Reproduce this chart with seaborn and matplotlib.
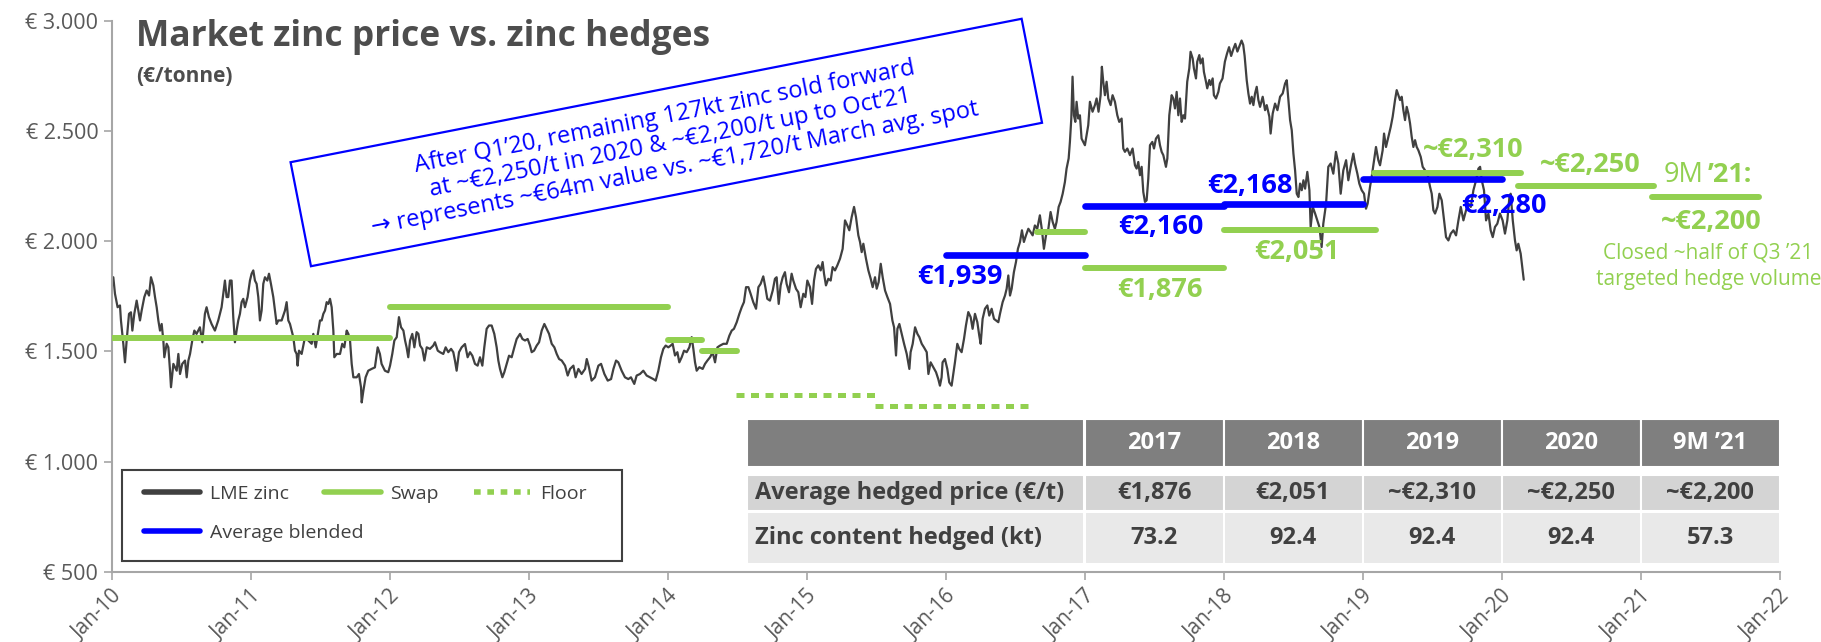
import numpy as np
import seaborn as sns
import matplotlib.pyplot as plt
from matplotlib.lines import Line2D
from matplotlib.patches import Rectangle
from matplotlib.transforms import Affine2D

# LME zinc price: years since Jan-2010 / EUR per tonne
lme_t = [
    0.001, 0.013, 0.025, 0.044, 0.061, 0.068, 0.085, 0.097, 0.109, 0.126, 0.140, 0.150, 0.164, 0.181, 0.193,
    0.205, 0.217, 0.236, 0.253, 0.270, 0.284, 0.301, 0.313, 0.325, 0.337, 0.349, 0.361, 0.373, 0.380, 0.397,
    0.409, 0.421, 0.428, 0.445, 0.457, 0.469, 0.481, 0.493, 0.509, 0.529, 0.541, 0.553, 0.565, 0.581, 0.596,
    0.612, 0.636, 0.653, 0.672, 0.684, 0.701, 0.720, 0.744, 0.768, 0.792, 0.804, 0.816, 0.828, 0.840, 0.852,
    0.864, 0.876, 0.888, 0.900, 0.912, 0.924, 0.936, 0.948, 0.960, 0.979, 0.996, 1.008, 1.020, 1.032, 1.044,
    1.056, 1.068, 1.080, 1.092, 1.104, 1.121, 1.133, 1.147, 1.164, 1.176, 1.188, 1.200, 1.224, 1.248, 1.260,
    1.272, 1.284, 1.296, 1.308, 1.320, 1.332, 1.339, 1.349, 1.368, 1.392, 1.416, 1.440, 1.452, 1.469, 1.488,
    1.500, 1.512, 1.524, 1.536, 1.548, 1.560, 1.572, 1.584, 1.596, 1.603, 1.620, 1.644, 1.660, 1.675, 1.692,
    1.704, 1.716, 1.728, 1.740, 1.764, 1.780, 1.795, 1.800, 1.812, 1.828, 1.847, 1.871, 1.895, 1.915, 1.931,
    1.943, 1.967, 1.991,
    2.004, 2.020, 2.035, 2.052, 2.068, 2.083, 2.100, 2.112, 2.123, 2.135, 2.148, 2.164, 2.179, 2.195, 2.208,
    2.220, 2.236, 2.251, 2.268, 2.291, 2.315, 2.327, 2.347, 2.363, 2.387, 2.404, 2.423, 2.443, 2.459, 2.471,
    2.483, 2.500, 2.519, 2.543, 2.562, 2.579, 2.596, 2.615, 2.634, 2.651, 2.668, 2.682, 2.699, 2.716, 2.735,
    2.754, 2.771, 2.783, 2.795, 2.812, 2.826, 2.843, 2.860, 2.879, 2.898, 2.915, 2.939, 2.956, 2.975, 2.994,
    3.011, 3.023, 3.040, 3.059, 3.076, 3.095, 3.114, 3.131, 3.148, 3.167, 3.186, 3.203, 3.220, 3.239, 3.263,
    3.282, 3.299, 3.323, 3.339, 3.359, 3.382, 3.407, 3.419, 3.435, 3.454, 3.478, 3.503, 3.522, 3.546, 3.570,
    3.594, 3.611, 3.630, 3.646, 3.670, 3.694, 3.718, 3.737, 3.761, 3.778, 3.802, 3.826, 3.850, 3.874, 3.898,
    3.915, 3.934, 3.953, 3.970, 3.987, 4.006,
    4.023, 4.037, 4.054, 4.071, 4.085, 4.102, 4.119, 4.138, 4.157, 4.174, 4.186, 4.198, 4.210, 4.229, 4.253,
    4.270, 4.287, 4.306, 4.325, 4.342, 4.359, 4.378, 4.402, 4.426, 4.445, 4.462, 4.478, 4.498, 4.517, 4.534,
    4.550, 4.565, 4.582, 4.598, 4.617, 4.637, 4.654, 4.670, 4.689, 4.704, 4.718, 4.737, 4.757, 4.773, 4.785,
    4.800, 4.814, 4.829, 4.845, 4.857, 4.874, 4.893, 4.905, 4.925, 4.941, 4.958, 4.977, 4.992, 5.006, 5.025,
    5.040, 5.054, 5.068, 5.085, 5.102, 5.116, 5.126, 5.140, 5.157, 5.174, 5.188, 5.205, 5.222, 5.241, 5.260,
    5.277, 5.294, 5.308, 5.325, 5.342, 5.356, 5.373, 5.385, 5.397, 5.409, 5.428, 5.445, 5.462, 5.476, 5.493,
    5.505, 5.519, 5.534, 5.548, 5.565, 5.582, 5.601, 5.618, 5.630, 5.644, 5.654, 5.668, 5.685, 5.702, 5.721,
    5.740, 5.749, 5.764, 5.781, 5.798, 5.812, 5.829, 5.845, 5.865, 5.877, 5.893, 5.912, 5.932, 5.948, 5.960,
    5.972,
    5.979, 5.996, 6.013, 6.027, 6.044, 6.056, 6.068, 6.085, 6.099, 6.116, 6.133, 6.147, 6.164, 6.181, 6.195,
    6.212, 6.229, 6.243, 6.253, 6.267, 6.284, 6.301, 6.315, 6.332, 6.349, 6.363, 6.380, 6.392, 6.411, 6.428,
    6.440, 6.452, 6.464, 6.476, 6.492, 6.507, 6.521, 6.536, 6.550, 6.564, 6.579, 6.596, 6.612, 6.627, 6.643,
    6.660, 6.679, 6.694, 6.708, 6.723, 6.740, 6.756, 6.771, 6.787, 6.799, 6.814, 6.828, 6.843, 6.859, 6.871,
    6.886, 6.895, 6.905, 6.914, 6.924, 6.934, 6.943, 6.955, 6.967, 6.979, 6.991, 7.003, 7.015, 7.027, 7.039,
    7.058, 7.075, 7.087, 7.101, 7.116, 7.125, 7.135, 7.147, 7.159, 7.171, 7.188, 7.202, 7.219, 7.236, 7.250,
    7.267, 7.279, 7.291, 7.308, 7.327, 7.346, 7.363, 7.375, 7.387, 7.399, 7.411, 7.423, 7.435, 7.447, 7.459,
    7.471, 7.488, 7.500, 7.514, 7.531, 7.543, 7.555, 7.567, 7.586, 7.596, 7.610, 7.627, 7.639, 7.651, 7.663,
    7.675, 7.687, 7.699, 7.711, 7.723, 7.739, 7.754, 7.763, 7.778, 7.787, 7.802, 7.811, 7.826, 7.835, 7.850,
    7.859, 7.874, 7.883, 7.898, 7.907, 7.922, 7.931, 7.946, 7.963, 7.974, 7.993, 8.010,
    8.025, 8.040, 8.055, 8.070, 8.085, 8.100, 8.115, 8.130, 8.142, 8.152, 8.160,
    8.167, 8.179, 8.191, 8.203, 8.215, 8.227, 8.239, 8.251, 8.263, 8.282, 8.299, 8.311, 8.330, 8.339, 8.354,
    8.371, 8.388, 8.407, 8.426, 8.443, 8.455, 8.467, 8.479, 8.491, 8.503, 8.515, 8.527, 8.539, 8.551, 8.563,
    8.575, 8.587, 8.603, 8.618, 8.627, 8.642, 8.659, 8.675, 8.690, 8.706, 8.718, 8.738, 8.754, 8.771, 8.790,
    8.809, 8.826, 8.843, 8.862, 8.882, 8.898, 8.915, 8.934, 8.946, 8.963, 8.977, 8.994, 9.011, 9.025, 9.037,
    9.054, 9.066, 9.083, 9.097, 9.114, 9.126, 9.145, 9.155, 9.169, 9.186, 9.203, 9.217, 9.234, 9.246, 9.258,
    9.270, 9.282, 9.294, 9.306, 9.318, 9.330, 9.342, 9.354, 9.366, 9.378, 9.390, 9.402, 9.419, 9.433, 9.450,
    9.467, 9.486, 9.498, 9.510, 9.522, 9.539, 9.553, 9.570, 9.587, 9.601, 9.618, 9.635, 9.654, 9.673, 9.690,
    9.707, 9.726, 9.745, 9.762, 9.779, 9.798, 9.817, 9.834, 9.846, 9.858, 9.874, 9.889, 9.906, 9.922, 9.937,
    9.953, 9.970, 9.989, 10.008, 10.025, 10.042, 10.057, 10.066, 10.081, 10.097, 10.109, 10.121, 10.138,
    10.150, 10.160,
]
lme_price = [
    1791, 1836, 1761, 1700, 1708, 1640, 1534, 1450, 1549, 1670, 1677, 1594, 1670, 1730, 1685,
    1640, 1685, 1746, 1776, 1753, 1836, 1799, 1746, 1700, 1640, 1594, 1624, 1549, 1473, 1534,
    1518, 1412, 1337, 1443, 1427, 1412, 1488, 1397, 1443, 1458, 1382, 1458, 1488, 1549, 1594,
    1579, 1609, 1541, 1670, 1700, 1655, 1624, 1594, 1640, 1700, 1761, 1821, 1746, 1746, 1821,
    1821, 1655, 1541, 1594, 1640, 1670, 1723, 1738, 1700, 1746, 1821, 1852, 1867, 1821, 1806,
    1746, 1640, 1685, 1806, 1836, 1821, 1852, 1806, 1746, 1685, 1624, 1640, 1640, 1685, 1723,
    1640, 1624, 1594, 1564, 1503, 1488, 1435, 1503, 1488, 1564, 1549, 1534, 1579, 1518, 1594,
    1640, 1640, 1670, 1685, 1723, 1715, 1738, 1700, 1594, 1473, 1488, 1488, 1534, 1518, 1594,
    1579, 1549, 1443, 1382, 1382, 1397, 1337, 1268, 1321, 1382, 1412, 1420, 1427, 1518, 1488,
    1443, 1412, 1405,
    1435, 1488, 1549, 1564, 1655, 1609, 1594, 1549, 1518, 1473, 1549, 1579, 1518, 1587, 1579,
    1526, 1511, 1458, 1518, 1511, 1526, 1541, 1503, 1496, 1488, 1518, 1496, 1511, 1496, 1458,
    1412, 1496, 1518, 1533, 1473, 1496, 1480, 1443, 1435, 1473, 1435, 1518, 1602, 1617, 1617,
    1579, 1518, 1458, 1420, 1382, 1405, 1443, 1480, 1473, 1518, 1556, 1579, 1556, 1549, 1556,
    1526, 1496, 1503, 1526, 1541, 1594, 1624, 1602, 1579, 1534, 1518, 1488, 1465, 1458, 1435,
    1390, 1420, 1435, 1382, 1420, 1397, 1420, 1465, 1427, 1367, 1382, 1435, 1443, 1397, 1367,
    1374, 1420, 1458, 1450, 1412, 1382, 1374, 1382, 1352, 1390, 1397, 1412, 1390, 1382, 1374,
    1367, 1412, 1473, 1511, 1526, 1518,
    1526, 1534, 1481, 1496, 1450, 1473, 1503, 1496, 1518, 1564, 1511, 1450, 1412, 1428, 1420,
    1443, 1458, 1473, 1496, 1450, 1518, 1526, 1534, 1534, 1571, 1594, 1602, 1632, 1670, 1700,
    1723, 1791, 1791, 1761, 1723, 1693, 1791, 1806, 1840, 1791, 1738, 1730, 1776, 1829, 1836,
    1715, 1799, 1836, 1859, 1806, 1768, 1852, 1821, 1783, 1768, 1700, 1761, 1746, 1821, 1791,
    1715, 1821, 1874, 1890, 1867, 1905, 1852, 1799, 1829, 1821, 1882, 1867, 1890, 1920, 1965,
    2094, 2071, 2049, 2109, 2155, 2109, 2026, 1996, 1950, 1988, 1920, 1867, 1829, 1791, 1836,
    1784, 1814, 1897, 1836, 1776, 1746, 1715, 1640, 1609, 1481, 1602, 1624, 1579, 1534, 1488,
    1420, 1496, 1534, 1609, 1579, 1564, 1534, 1518, 1496, 1397, 1450, 1428, 1405, 1374, 1344,
    1382,
    1450, 1465, 1420, 1359, 1344, 1397, 1450, 1534, 1511, 1496, 1556, 1617, 1678, 1655, 1602,
    1670, 1632, 1571, 1534, 1647, 1693, 1708, 1662, 1693, 1647, 1640, 1632, 1670, 1723, 1753,
    1784, 1844, 1753, 1784, 1859, 1905, 1965, 1996, 2049, 1996, 2026, 2056, 2041, 2026, 2071,
    2056, 2117, 2049, 1965, 2026, 2056, 2132, 2087, 2056, 2087, 2155, 2178, 2215, 2268, 2329,
    2375, 2450, 2556, 2746, 2571, 2541, 2632, 2556, 2571, 2465, 2450, 2435, 2480, 2526, 2632,
    2587, 2617, 2647, 2587, 2662, 2791, 2723, 2662, 2723, 2647, 2617, 2662, 2632, 2571, 2541,
    2556, 2420, 2405, 2420, 2390, 2420, 2344, 2329, 2359, 2299, 2337, 2223, 2178, 2185, 2284,
    2435, 2450, 2420, 2465, 2480, 2435, 2405, 2390, 2337, 2375, 2571, 2662, 2647, 2602, 2677,
    2571, 2647, 2541, 2571, 2556, 2723, 2784, 2859, 2829, 2784, 2738, 2814, 2844, 2806, 2829,
    2768, 2723, 2693, 2731, 2708, 2738, 2662, 2647, 2677, 2715, 2738, 2814,
    2850, 2880, 2840, 2870, 2895, 2860, 2885, 2910, 2890, 2840, 2780,
    2730, 2670, 2624, 2655, 2617, 2670, 2700, 2640, 2609, 2655, 2594, 2617, 2564, 2488, 2579,
    2624, 2594, 2655, 2670, 2715, 2730, 2640, 2549, 2503, 2397, 2321, 2215, 2200, 2261, 2231,
    2276, 2238, 2314, 2231, 2064, 2155, 2125, 2094, 2064, 1973, 2079, 2170, 2337, 2352, 2306,
    2405, 2352, 2215, 2321, 2367, 2276, 2337, 2397, 2352, 2306, 2261, 2231, 2215, 2147, 2170,
    2246, 2291, 2367, 2427, 2367, 2344, 2412, 2488, 2427, 2473, 2518, 2564, 2640, 2685, 2662,
    2640, 2655, 2594, 2549, 2609, 2579, 2534, 2473, 2427, 2458, 2427, 2412, 2382, 2337, 2321,
    2306, 2246, 2215, 2140, 2125, 2155, 2215, 2185, 2094, 2018, 2003, 2034, 2049, 2026, 2094,
    2155, 2094, 2140, 2170, 2155, 2231, 2276, 2329, 2337, 2276, 2231, 2094, 2125, 2049, 2018,
    2064, 2079, 2125, 2094, 2034, 2094, 2200, 2215, 2094, 2003, 1958, 1988, 1943,
    1880, 1825,
]

# hedge levels (EUR/t) and the periods they cover
swap_start = [2010.0, 2012.0, 2014.0, 2014.25, 2016.66, 2017.0, 2018.0, 2019.08, 2020.12, 2021.08]
swap_end = [2012.0, 2014.0, 2014.25, 2014.5, 2017.0, 2018.0, 2019.1, 2020.14, 2021.1, 2021.85]
swap_price = [1560, 1700, 1550, 1500, 2040, 1876, 2051, 2310, 2250, 2200]

floor_start = [2014.49, 2015.49]
floor_end = [2015.5, 2016.63]
floor_price = [1300, 1250]

blend_start = [2016.0, 2017.0, 2018.0, 2019.0]
blend_end = [2017.0, 2018.0, 2019.0, 2020.0]
blend_price = [1939, 2160, 2168, 2280]

blue_labels = ['€1,939', '€2,160', '€2,168', '€2,280']
green_labels = ['€1,876', '€2,051', '~€2,310', '~€2,250', '~€2,200']

table_cols = ['2017', '2018', '2019', '2020', '9M ’21']
table_rows = ['Average hedged price (€/t)', 'Zinc content hedged (kt)']
avg_price = ['€1,876', '€2,051', '~€2,310', '~€2,250', '~€2,200']
zinc_kt = ['73.2', '92.4', '92.4', '92.4', '57.3']

years = list(range(2010, 2023))
yticks = list(range(500, 3001, 500))

GREY = '#404040'
GREEN = '#92d050'
BLUE = '#0000ff'
TICK = '#595959'

sns.set_theme(style='white')
plt.rcParams['font.family'] = ['Open Sans', 'DejaVu Sans']

W, H = 1821, 642
fig = plt.figure(figsize=(W / 100, H / 100), dpi=100)
ax = fig.add_axes([111.5 / W, 1 - 571.7 / H, 1668 / W, 551 / H])

sns.lineplot(x=2010 + np.array(lme_t), y=lme_price, ax=ax, color=GREY, lw=1.6,
             estimator=None, sort=False, zorder=2)

for x0, x1, v in zip(swap_start, swap_end, swap_price):
    ax.plot([x0, x1], [v, v], color=GREEN, lw=4.3, solid_capstyle='round', zorder=3)
for x0, x1, v in zip(floor_start, floor_end, floor_price):
    ax.plot([x0, x1], [v, v], color=GREEN, lw=3.6, dashes=(1.6, 1.3), zorder=3)
for x0, x1, v in zip(blend_start, blend_end, blend_price):
    ax.plot([x0, x1], [v, v], color=BLUE, lw=4.8, solid_capstyle='round', zorder=4)

# value labels next to the hedge lines
blue_pos = [(2016.105, 1835), (2017.55, 2064), (2018.19, 2250), (2020.02, 2158)]
green_pos = [(2017.545, 1780), (2018.53, 1950), (2019.795, 2412), (2020.64, 2344), (2021.51, 2086)]
for txt, (x, y) in zip(blue_labels, blue_pos):
    ax.text(x, y, txt, color=BLUE, fontsize=19.5, fontweight='bold', ha='center', va='center', zorder=5)
for txt, (x, y) in zip(green_labels, green_pos):
    ax.text(x, y, txt, color=GREEN, fontsize=19.5, fontweight='bold', ha='center', va='center', zorder=5)
ax.text(2021.45, 2299, '9M', color=GREEN, fontsize=19.5, ha='right', va='center')
ax.text(2021.485, 2299, '’21:', color=GREEN, fontsize=19.5, fontweight='bold', ha='left', va='center')
ax.text(2021.49, 1944, 'Closed ~half of Q3 ’21', color=GREEN, fontsize=15, ha='center', va='center')
ax.text(2021.49, 1826, 'targeted hedge volume', color=GREEN, fontsize=15, ha='center', va='center')

# summary table, columns line up with the calendar years
col_edges = [2014.57] + years[7:]
row_bands = [(976, 1194), (774, 940), (535, 772)]
row_fill = ['#7f7f7f', '#d4d4d4', '#e9e9e9']
cells = [[''] + table_cols, [table_rows[0]] + avg_price, [table_rows[1]] + zinc_kt]
for r, (lo, hi) in enumerate(row_bands):
    for c in range(len(col_edges) - 1):
        ax.add_patch(Rectangle((col_edges[c], lo), col_edges[c + 1] - col_edges[c], hi - lo,
                               facecolor=row_fill[r], edgecolor='white', lw=1.5, zorder=6))
        colour = 'white' if r == 0 else GREY
        if c == 0:
            ax.text(col_edges[0] + 0.06, (lo + hi) / 2, cells[r][c], color=colour, fontsize=17,
                    fontweight='bold', ha='left', va='center', zorder=7)
        else:
            ax.text((col_edges[c] + col_edges[c + 1]) / 2, (lo + hi) / 2, cells[r][c], color=colour,
                    fontsize=17, fontweight='bold', ha='center', va='center', zorder=7)

ax.set_xlim(2010, 2022)
ax.set_ylim(500, 3000)
ax.set_xticks(years)
ax.set_xticklabels([f'Jan-{y % 100:02d}' for y in years], rotation=45, ha='right',
                   rotation_mode='anchor')
ax.set_yticks(yticks)
ax.set_yticklabels([f'€ {v:,}'.replace(',', '.') for v in yticks])
ax.tick_params(axis='both', left=True, bottom=True, length=6, width=1.2, color='#a6a6a6',
               labelcolor=TICK, labelsize=15.5)
ax.tick_params(axis='x', labelsize=15, pad=4)
for side in ['top', 'right']:
    ax.spines[side].set_visible(False)
for side in ['left', 'bottom']:
    ax.spines[side].set_color('#a6a6a6')
    ax.spines[side].set_linewidth(1.5)
ax.set_xlabel('')
ax.set_ylabel('')

# legend: first row holds three entries, "Average blended" sits alone below
leg_kw = dict(loc='center left', borderaxespad=0, borderpad=0, frameon=False, fontsize=14,
              handlelength=2.9, handletextpad=0.5, labelcolor=GREY)
row1 = ax.legend([Line2D([], [], color=GREY, lw=4),
                  Line2D([], [], color=GREEN, lw=4),
                  Line2D([], [], color=GREEN, lw=4, dashes=(1.2, 1.2))],
                 ['LME zinc', 'Swap', 'Floor'], ncol=3, columnspacing=1.8,
                 bbox_to_anchor=(0.0195, 0.141), **leg_kw)
ax.add_artist(row1)
ax.legend([Line2D([], [], color=BLUE, lw=4)], ['Average blended'],
          bbox_to_anchor=(0.0195, 0.0704), **leg_kw)
ax.add_patch(Rectangle((0.0062, 0.020), 0.3001, 0.1646, transform=ax.transAxes, fill=False,
                       edgecolor=GREY, lw=1.5, clip_on=False, zorder=8))

fig.text(136 / W, 1 - 45.7 / H, 'Market zinc price vs. zinc hedges', fontsize=25.5,
         fontweight='bold', color='#4d4d4d', ha='left', va='baseline')
fig.text(136 / W, 1 - 76 / H, '(€/tonne)', fontsize=15, fontweight='bold', color='#4d4d4d',
         ha='left', va='center')

# rotated call-out box
ang = 11.1
cx, cy = 6.663, 4.995
box = Rectangle((-3.725, -0.53), 7.45, 1.06, fill=False, edgecolor=BLUE, lw=1.6,
                transform=Affine2D().rotate_deg(ang).translate(cx, cy) + fig.dpi_scale_trans)
fig.add_artist(box)
note = ('After Q1’20, remaining 127kt zinc sold forward\n'
        'at ~€2,250/t in 2020 & ~€2,200/t up to Oct’21\n'
        '→ represents ~€64m value vs. ~€1,720/t March avg. spot')
fig.text(6.70 / (W / 100), 4.99 / (H / 100), note, rotation=ang, rotation_mode='anchor',
         ha='center', va='center', multialignment='center', color=BLUE, fontsize=17,
         linespacing=1.15)

fig.savefig('out.png', dpi=100)
